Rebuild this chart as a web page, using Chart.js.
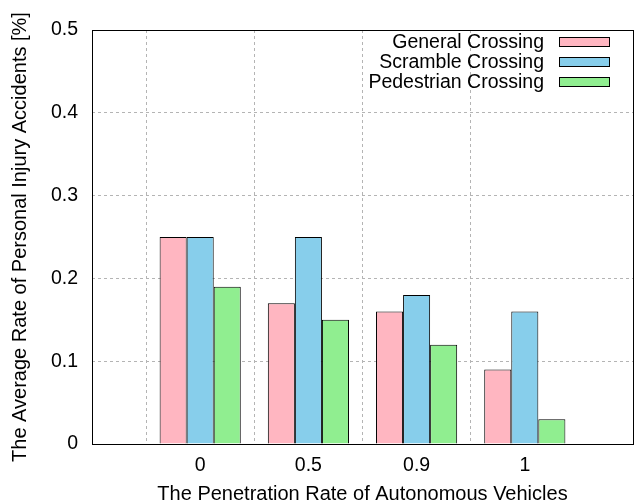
<!DOCTYPE html>
<html>
<head>
<meta charset="utf-8">
<script src="https://cdn.jsdelivr.net/npm/chart.js@4/dist/chart.umd.min.js"></script>
<style>
  html, body { margin: 0; padding: 0; background: #fff; }
  #wrap { width: 643px; height: 504px; position: relative; }
</style>
</head>
<body>
<div id="wrap"><canvas id="chart"></canvas></div>
<script>
// x categories (empty slots at the ends give gnuplot's -1..4 range)
const categories = ['', '0', '0.5', '0.9', '1', '']
const seriesNames = ['General Crossing', 'Scramble Crossing', 'Pedestrian Crossing']
const generalCrossing = [null, 0.25, 0.17, 0.16, 0.09, null]
const scrambleCrossing = [null, 0.25, 0.25, 0.18, 0.16, null]
const pedestrianCrossing = [null, 0.19, 0.15, 0.12, 0.03, null]
const yTicks = [0, 0.1, 0.2, 0.3, 0.4, 0.5]

const colors = ['#ffb6c1', '#87ceeb', '#90ee90']
const FONT = '"Liberation Sans", Arial, sans-serif'

// 테두리 + 범례
const framePlugin = {
    id: 'frame',
    afterDraw(chart){
        const ctx = chart.ctx
        const a = chart.chartArea
        ctx.save()
        ctx.strokeStyle = '#000'
        ctx.lineWidth = 1
        ctx.strokeRect(Math.round(a.left)+0.5, Math.round(a.top)+0.5,
            Math.round(a.right-a.left), Math.round(a.bottom-a.top))

        // legend, text right-aligned with box on the right
        ctx.font = '19.5px ' + FONT
        ctx.textAlign = 'right'
        ctx.textBaseline = 'middle'
        chart.data.datasets.forEach((ds, i)=>{
            let y = a.top + 12 + i*20
            ctx.fillStyle = '#000'
            ctx.fillText(ds.label, a.right - 89, y + 1)
            ctx.fillStyle = ds.backgroundColor
            ctx.fillRect(a.right - 74, y - 5, 51, 10)
            ctx.strokeStyle = '#000'
            ctx.strokeRect(a.right - 74 + 0.5, y - 5 + 0.5, 50, 9)
        })
        ctx.restore()
    }
}

new Chart(document.getElementById('chart'), {
    type: 'bar',
    data: {
        labels: categories,
        datasets: [
            { label: seriesNames[0], data: generalCrossing, backgroundColor: colors[0] },
            { label: seriesNames[1], data: scrambleCrossing, backgroundColor: colors[1] },
            { label: seriesNames[2], data: pedestrianCrossing, backgroundColor: colors[2] }
        ].map(d => Object.assign(d, {
            borderColor: '#000', borderWidth: 1,
            categoryPercentage: 0.75, barPercentage: 1.0
        }))
    },
    options: {
        responsive: true,
        maintainAspectRatio: false,
        animation: false,
        layout: { padding: { top: 30, right: 6, left: 0, bottom: 0 } },
        plugins: { legend: { display: false }, tooltip: { enabled: false } },
        scales: {
            x: {
                offset: false,
                grid: {
                    drawTicks: false,
                    color: ctx => (ctx.index === 0 || ctx.index === categories.length-1) ? 'rgba(0,0,0,0)' : '#b4b4b4',
                    tickBorderDash: [3, 3]
                },
                border: { display: false, dash: [3, 3] },
                ticks: { color: '#000', font: { family: FONT, size: 19.5 }, padding: 10, maxRotation: 0, autoSkip: false },
                title: {
                    display: true,
                    text: 'The Penetration Rate of Autonomous Vehicles',
                    color: '#000',
                    font: { family: FONT, size: 20, lineHeight: 1.0 },
                    padding: { top: 0, bottom: 0 }
                },
                afterFit(scale){ scale.height = 60 }
            },
            y: {
                min: 0, max: 0.5,
                afterBuildTicks(scale){ scale.ticks = yTicks.map(v => ({ value: v })) },
                grid: {
                    drawTicks: false,
                    color: ctx => (ctx.tick && (ctx.tick.value === 0 || ctx.tick.value === 0.5)) ? 'rgba(0,0,0,0)' : '#b4b4b4'
                },
                border: { display: false, dash: [3, 3] },
                ticks: {
                    color: '#000', font: { family: FONT, size: 19.5 }, padding: 14,
                    callback: v => String(Math.round(v*10)/10)
                },
                title: {
                    display: true,
                    text: 'The Average Rate of Personal Injury Accidents [%]',
                    color: '#000',
                    font: { family: FONT, size: 20, lineHeight: 1.0 },
                    padding: { top: 10, bottom: 0 }
                },
                afterFit(scale){ scale.width = 92 }
            }
        }
    },
    plugins: [framePlugin]
})
</script>
</body>
</html>
